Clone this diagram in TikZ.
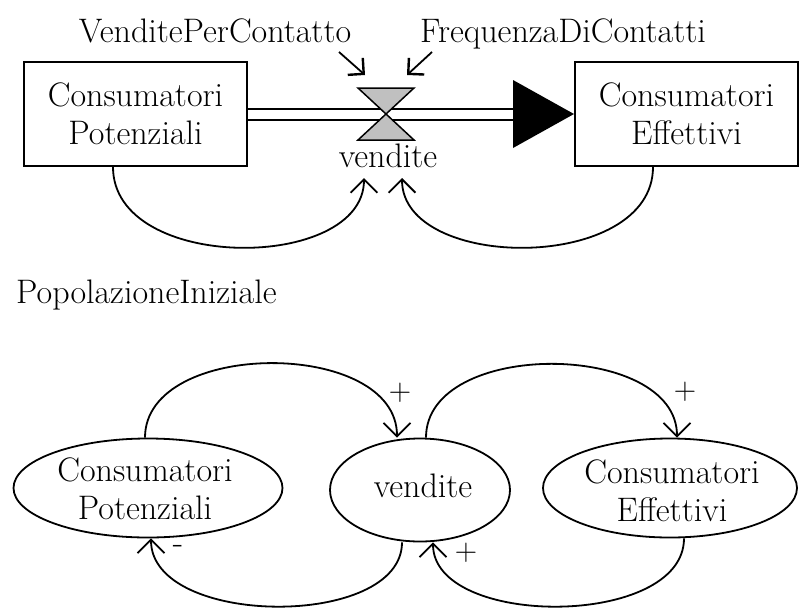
\documentclass[tikz,border=0pt]{standalone}
\usepackage{fontspec}
\usetikzlibrary{arrows.meta,shapes.geometric}
\definecolor{valvegray}{RGB}{192,192,192}
\begin{document}
\begin{tikzpicture}[x=1pt,y=-1pt,
  every node/.style={font=\fontsize{34}{38}\selectfont, inner sep=0pt},
  stockbox/.style={draw, line width=2pt, minimum width=223pt, minimum height=104pt, align=center},
  ell/.style={draw, ellipse, line width=1.8pt},
  txt/.style={align=center},
  sign/.style={font=\fontsize{31}{34}\selectfont},
  link/.style={line width=1.8pt},
  barb/.style={-{Straight Barb[angle=90:19pt, line width=1.8pt]}},
  infoarrow/.style={line width=1.8pt, -{Straight Barb[angle=90:16pt, line width=2.4pt]}},
  pipe/.style={double, double distance=9pt, line width=2pt},
]
\useasboundingbox (0,0) rectangle (800,611);

% ---------- stock and flow diagram ----------
\node[stockbox] (cp) at (135.5,114) {Consumatori\\Potenziali};
\node[stockbox] (ce) at (686.5,114) {Consumatori\\Effettivi};

\coordinate (v) at (386,114);
\coordinate (ah) at (513,114);
\draw[pipe] (cp.east) -- (ah);
\filldraw[fill=valvegray, line width=1.5pt] (358,88) -- (414,88) -- (v) -- cycle;
\filldraw[fill=valvegray, line width=1.5pt] (358,140) -- (414,140) -- (v) -- cycle;
\fill (513,80) -- (ce.west) -- (513,148) -- cycle;

\node[anchor=base] (vl) at (388,167) {vendite};
\node[anchor=base] (vpc) at (215,42) {VenditePerContatto};
\node[anchor=base] (fdc) at (563,42) {FrequenzaDiContatti};

\coordinate (a1s) at (339,52);
\coordinate (a1e) at (365,75);
\coordinate (a2s) at (432,52);
\coordinate (a2e) at (407,75);
\draw[infoarrow] (a1s) -- (a1e);
\draw[infoarrow] (a2s) -- (a2e);

\coordinate (t1) at (364,178);
\coordinate (t2) at (402,178);
\draw[link, barb] ([xshift=-22.5pt]cp.south) .. controls +(0,106) and +(0,94) .. (t1);
\draw[link, barb] ([xshift=-33.5pt]ce.south) .. controls +(0,106) and +(0,94) .. (t2);

\node[anchor=west] (pi) at (16,295) {PopolazioneIniziale};

% ---------- causal loop diagram ----------
\node[ell, minimum width=269pt, minimum height=99pt] (cpE) at (148,488) {};
\node[ell, minimum width=180pt, minimum height=103pt] (vE) at (420,490) {};
\node[ell, minimum width=254pt, minimum height=99pt] (ceE) at (670,488) {};
\node[txt] (cpT) at (145,489) {Consumatori\\Potenziali};
\node[txt, anchor=base] (vT) at (423,497) {vendite};
\node[txt] (ceT) at (672,491) {Consumatori\\Effettivi};

\draw[link, barb] ([xshift=-3pt]cpE.north) .. controls +(0,-99) and +(0,-99) .. ([xshift=-23pt]vE.north);
\draw[link, barb] ([xshift=6pt]vE.north) .. controls +(0,-99) and +(0,-97) .. ([xshift=7pt]ceE.north);
\draw[link, barb] ([xshift=-18pt]vE.south) .. controls +(0,87) and +(0,89) .. ([xshift=3pt]cpE.south);
\draw[link, barb] ([xshift=14pt]ceE.south) .. controls +(0,90) and +(0,86) .. ([xshift=13pt]vE.south);

\node[sign] (p1) at (400,393) {+};
\node[sign] (p2) at (685,392) {+};
\node (m1) at (178,549) {-};
\node[sign] (p3) at (466,553) {+};
\end{tikzpicture}
\end{document}
